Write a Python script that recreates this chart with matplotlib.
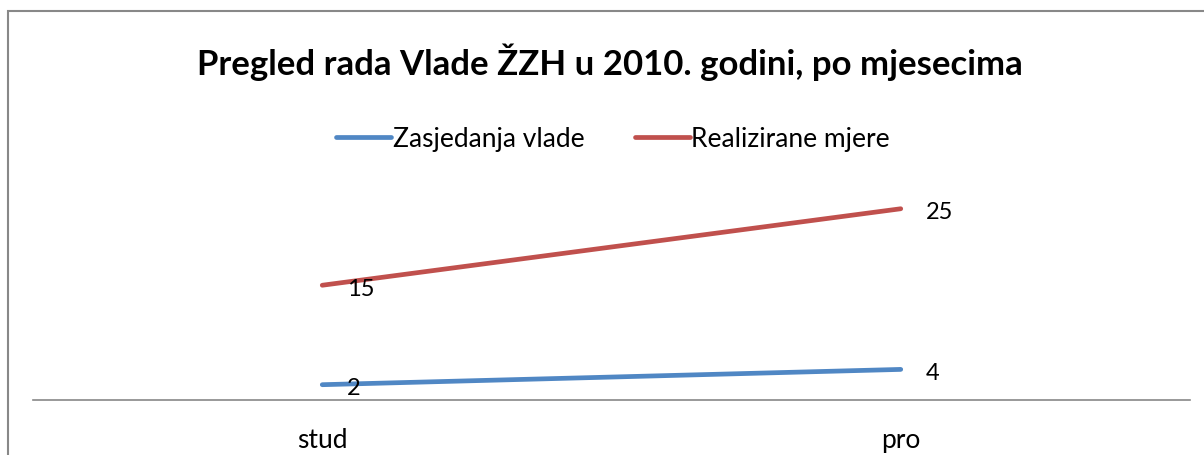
import matplotlib.pyplot as plt
from matplotlib.patches import Rectangle

plt.rcParams['font.family'] = ['Lato', 'DejaVu Sans']

months = ['stud', 'pro']
zasjedanja = [2, 4]
mjere = [15, 25]

fig = plt.figure(figsize=(12.04, 4.55), dpi=100)
ax = fig.add_axes([33/1204, 1-400/455, (1190-33)/1204, 229.5/455])

x = [0.5, 1.5]
ax.plot(x, zasjedanja, color='#5087C4', lw=3.4, solid_capstyle='round', label='Zasjedanja vlade')
ax.plot(x, mjere, color='#C0504D', lw=3.4, solid_capstyle='round', label='Realizirane mjere')

for xs, ys in [(x, zasjedanja), (x, mjere)]:
    for xi, yi in zip(xs, ys):
        ax.annotate(str(yi), (xi, yi), xytext=(18, -3), textcoords='offset points',
                    ha='left', va='center', fontsize=17)

ax.set_xlim(0, 2)
ax.set_ylim(0, 30)
ax.set_xticks(x)
ax.set_xticklabels(months, fontsize=19)
ax.tick_params(axis='x', length=0, pad=20)
ax.set_yticks([])
for s in ['top', 'right', 'left']:
    ax.spines[s].set_visible(False)
ax.spines['bottom'].set_color('#888888')
ax.spines['bottom'].set_linewidth(1.2)

fig.text(610/1204, 1-62/455, 'Pregled rada Vlade ŽZH u 2010. godini, po mjesecima',
         ha='center', va='center', fontsize=25, fontweight='bold')
fig.legend(loc='center', bbox_to_anchor=(613/1204, 1-139/455), ncol=2, frameon=False,
           fontsize=19, handlelength=2.1, handletextpad=0.05, columnspacing=1.9)

fig.patches.append(Rectangle((7.5/1204, -0.1), 1.2, 1-10.5/455 + 0.1, transform=fig.transFigure,
                             fill=False, edgecolor='#888888', lw=1.5))

fig.savefig('out.png', dpi=100)
